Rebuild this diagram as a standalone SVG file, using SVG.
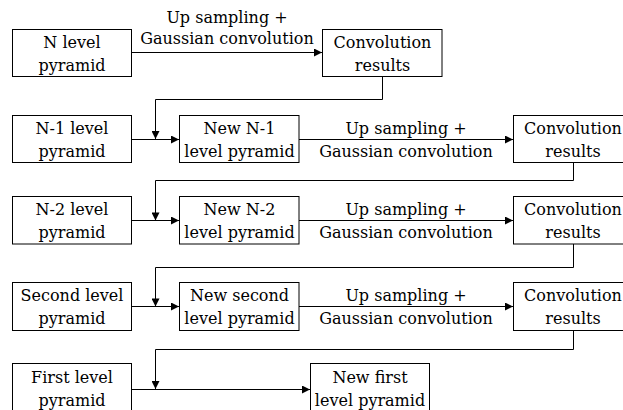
<svg xmlns="http://www.w3.org/2000/svg" width="623" height="410" viewBox="0 0 623 410">
  <style>
    .box { fill: #ffffff; stroke: #000000; stroke-width: 1; }
    .wire { fill: none; stroke: #000000; stroke-width: 1; }
    .lbl { font-family: 'DejaVu Serif', serif; font-size: 16px; fill: #000000; text-anchor: middle; }
  </style>
  <defs>
    <marker id="arrow" viewBox="0 0 10 10" refX="10" refY="5" markerWidth="10" markerHeight="8" markerUnits="userSpaceOnUse" orient="auto">
      <path d="M0,0 L10,5 L0,10 Z" fill="#000000"/>
    </marker>
  </defs>
  <rect width="623" height="410" fill="#ffffff"/>

  <!-- connectors -->
  <g id="connectors">
    <path class="wire" d="M131.5,52.5 H322" marker-end="url(#arrow)"/>
    <path class="wire" d="M382.5,77 V99.5 H155.5 V139" marker-end="url(#arrow)"/>
    <path class="wire" d="M131.5,139.5 H179" marker-end="url(#arrow)"/>
    <path class="wire" d="M299,139.5 H513" marker-end="url(#arrow)"/>
    <path class="wire" d="M573.5,163 V180.5 H155.5 V220.5" marker-end="url(#arrow)"/>
    <path class="wire" d="M131.5,220.5 H179" marker-end="url(#arrow)"/>
    <path class="wire" d="M299,220.5 H513" marker-end="url(#arrow)"/>
    <path class="wire" d="M573.5,244 V267.5 H155.5 V306.5" marker-end="url(#arrow)"/>
    <path class="wire" d="M131.5,306.5 H179" marker-end="url(#arrow)"/>
    <path class="wire" d="M299,306.5 H513" marker-end="url(#arrow)"/>
    <path class="wire" d="M573.5,331 V349.5 H155.5 V389" marker-end="url(#arrow)"/>
    <path class="wire" d="M131.5,389.5 H310" marker-end="url(#arrow)"/>

    <g class="lbl">
      <text x="227" y="23">Up sampling +</text>
      <text x="227" y="44">Gaussian convolution</text>
      <text x="406" y="134">Up sampling +</text>
      <text x="406" y="157">Gaussian convolution</text>
      <text x="406" y="215">Up sampling +</text>
      <text x="406" y="238">Gaussian convolution</text>
      <text x="406" y="301">Up sampling +</text>
      <text x="406" y="324">Gaussian convolution</text>
    </g>
  </g>

  <!-- row 1 -->
  <g id="n-level" class="lbl">
    <rect class="box" x="12.5" y="29.5" width="119" height="47"/>
    <text x="72" y="48">N level</text>
    <text x="72" y="71">pyramid</text>
  </g>
  <g id="conv-n" class="lbl">
    <rect class="box" x="322.5" y="29.5" width="119.5" height="47"/>
    <text x="382.5" y="48">Convolution</text>
    <text x="382.5" y="71">results</text>
  </g>

  <!-- row 2 -->
  <g id="n1-level" class="lbl">
    <rect class="box" x="12.5" y="115.5" width="119" height="47"/>
    <text x="72" y="134">N-1 level</text>
    <text x="72" y="157">pyramid</text>
  </g>
  <g id="new-n1" class="lbl">
    <rect class="box" x="179.5" y="115.5" width="119.5" height="47"/>
    <text x="239.5" y="134">New N-1</text>
    <text x="239.5" y="157">level pyramid</text>
  </g>
  <g id="conv-n1" class="lbl">
    <rect class="box" x="513.5" y="115.5" width="120" height="47"/>
    <text x="573" y="134">Convolution</text>
    <text x="573" y="157">results</text>
  </g>

  <!-- row 3 -->
  <g id="n2-level" class="lbl">
    <rect class="box" x="12.5" y="196.5" width="119" height="47.5"/>
    <text x="72" y="215">N-2 level</text>
    <text x="72" y="238">pyramid</text>
  </g>
  <g id="new-n2" class="lbl">
    <rect class="box" x="179.5" y="196.5" width="119.5" height="47.5"/>
    <text x="239.5" y="215">New N-2</text>
    <text x="239.5" y="238">level pyramid</text>
  </g>
  <g id="conv-n2" class="lbl">
    <rect class="box" x="513.5" y="196.5" width="120" height="47.5"/>
    <text x="573" y="215">Convolution</text>
    <text x="573" y="238">results</text>
  </g>

  <!-- row 4 -->
  <g id="second-level" class="lbl">
    <rect class="box" x="12.5" y="282.5" width="119" height="48"/>
    <text x="72" y="301">Second level</text>
    <text x="72" y="324">pyramid</text>
  </g>
  <g id="new-second" class="lbl">
    <rect class="box" x="179.5" y="282.5" width="119.5" height="48"/>
    <text x="239.5" y="301">New second</text>
    <text x="239.5" y="324">level pyramid</text>
  </g>
  <g id="conv-second" class="lbl">
    <rect class="box" x="513.5" y="282.5" width="120" height="48"/>
    <text x="573" y="301">Convolution</text>
    <text x="573" y="324">results</text>
  </g>

  <!-- row 5 -->
  <g id="first-level" class="lbl">
    <rect class="box" x="12.5" y="363.5" width="119" height="48"/>
    <text x="72" y="383">First level</text>
    <text x="72" y="406">pyramid</text>
  </g>
  <g id="new-first" class="lbl">
    <rect class="box" x="310.5" y="363.5" width="119" height="48"/>
    <text x="370" y="383">New first</text>
    <text x="370" y="406">level pyramid</text>
  </g>
</svg>
